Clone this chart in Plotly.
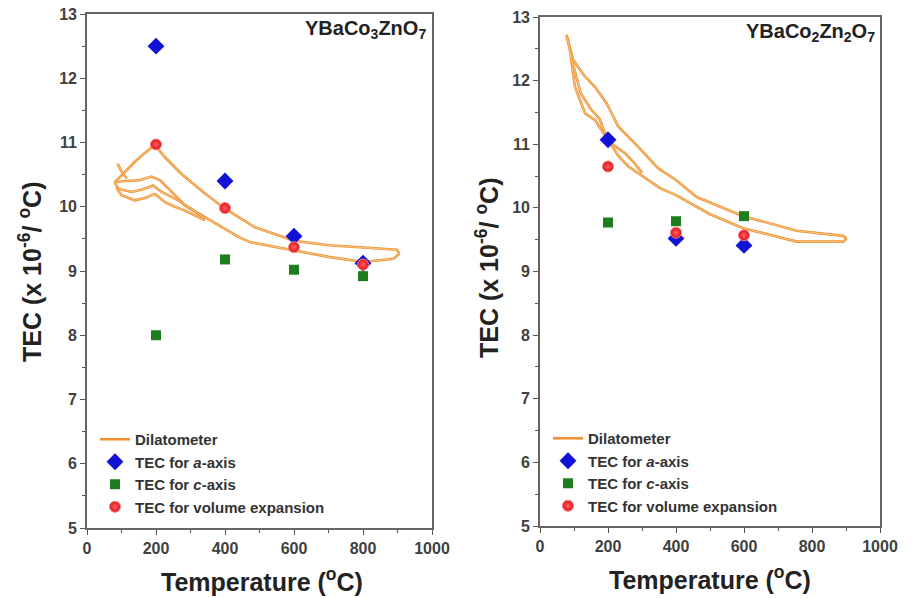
import plotly.graph_objects as go

# ---------------- data ----------------
temps_xrd = [200, 400, 600, 800]
a_axis_1 = [12.5, 10.40, 9.54, 9.12]
c_axis_1 = [8.0, 9.18, 9.02, 8.92]
vol_1 = [10.97, 9.98, 9.37, 9.10]

temps_xrd2 = [200, 400, 600]
a_axis_2 = [11.07, 9.52, 9.41]
c_axis_2 = [9.77, 9.79, 9.87]
vol_2 = [10.65, 9.61, 9.57]

# dilatometer, panel 1 (heating branch + return strands)
dil1_up_T = [80, 110, 139, 170, 197, 226, 274, 332, 400, 487, 600, 700, 800, 898, 906]
dil1_up_V = [10.38, 10.55, 10.70, 10.85, 10.96, 10.77, 10.51, 10.25, 9.97, 9.68, 9.47, 9.40, 9.37, 9.33, 9.27]
dil1_ret_T = [906, 888, 801, 700, 600, 472, 439, 400, 342, 284, 255, 212, 187, 149, 110, 80]
dil1_ret_V = [9.27, 9.19, 9.14, 9.22, 9.32, 9.45, 9.53, 9.65, 9.84, 10.02, 10.18, 10.41, 10.47, 10.41, 10.40, 10.38]
dil1_s2_T = [342, 300, 265, 216, 192, 160, 130, 91, 80]
dil1_s2_V = [9.82, 9.98, 10.10, 10.23, 10.33, 10.27, 10.23, 10.28, 10.38]
dil1_s3_T = [342, 284, 255, 226, 197, 170, 139, 100, 85]
dil1_s3_V = [9.79, 9.94, 10.00, 10.07, 10.20, 10.14, 10.10, 10.18, 10.30]
dil1_stub_T = [88, 100, 115]
dil1_stub_V = [10.67, 10.55, 10.44]

# dilatometer, panel 2
dil2_up_T = [78, 98, 130, 162, 196, 230, 289, 348, 397, 461, 598, 755, 892, 902]
dil2_up_V = [12.72, 12.32, 12.08, 11.90, 11.64, 11.28, 10.96, 10.62, 10.45, 10.17, 9.87, 9.64, 9.56, 9.52]
dil2_ret_T = [902, 892, 755, 598, 500, 400, 353, 309, 260, 230, 196, 162, 132, 103, 88, 78]
dil2_ret_V = [9.52, 9.47, 9.47, 9.68, 9.90, 10.20, 10.31, 10.47, 10.65, 10.82, 11.09, 11.38, 11.49, 11.90, 12.48, 12.72]
dil2_s2_T = [95, 120, 150, 175, 200, 225, 250, 275, 300]
dil2_s2_V = [12.30, 11.80, 11.55, 11.40, 11.05, 10.95, 10.86, 10.72, 10.55]

title1 = "<b>YBaCo<sub>3</sub>ZnO<sub>7</sub></b>"
title2 = "<b>YBaCo<sub>2</sub>Zn<sub>2</sub>O<sub>7</sub></b>"
xlabel = "<b>Temperature (<sup>o</sup>C)</b>"
ylabel = "<b>TEC (x 10<sup>-6</sup>/ <sup>o</sup>C)</b>"
names = ["Dilatometer", "TEC for <i>a</i>-axis", "TEC for <i>c</i>-axis", "TEC for volume expansion"]

ORANGE = "#EE9230"
LIGHT = "#FADDB4"
BLUE = "#1212D6"
GREEN = "#1E7D1E"
RED = "#E3121A"
FONT = "Liberation Sans, Arial"

fig = go.Figure()

def add_panel(xa, ya, leg, strands, tx, a, c, v):
    first = True
    for (T, V) in strands:
        fig.add_trace(go.Scatter(x=T, y=V, mode="lines", line=dict(color=ORANGE, width=2.6),
                                 name=names[0], showlegend=first, legend=leg,
                                 xaxis=xa, yaxis=ya, hoverinfo="skip"))
        fig.add_trace(go.Scatter(x=T, y=V, mode="lines", line=dict(color=LIGHT, width=0.7),
                                 showlegend=False, xaxis=xa, yaxis=ya, hoverinfo="skip"))
        first = False
    fig.add_trace(go.Scatter(x=tx, y=a, mode="markers", name=names[1], legend=leg,
                             marker=dict(symbol="diamond", size=13, color=BLUE),
                             xaxis=xa, yaxis=ya))
    fig.add_trace(go.Scatter(x=tx, y=c, mode="markers", name=names[2], legend=leg,
                             marker=dict(symbol="square", size=10, color=GREEN),
                             xaxis=xa, yaxis=ya))
    fig.add_trace(go.Scatter(x=tx, y=v, mode="markers", name=names[3], legend=leg,
                             marker=dict(symbol="circle", size=11, color=RED,
                                         gradient=dict(type="radial", color="#FF6060"),
                                         line=dict(color="#F08080", width=1.0)),
                             xaxis=xa, yaxis=ya))

add_panel("x", "y", "legend",
          [(dil1_up_T, dil1_up_V), (dil1_ret_T, dil1_ret_V), (dil1_s2_T, dil1_s2_V),
           (dil1_s3_T, dil1_s3_V), (dil1_stub_T, dil1_stub_V)],
          temps_xrd, a_axis_1, c_axis_1, vol_1)
add_panel("x2", "y2", "legend2",
          [(dil2_up_T, dil2_up_V), (dil2_ret_T, dil2_ret_V), (dil2_s2_T, dil2_s2_V)],
          temps_xrd2, a_axis_2, c_axis_2, vol_2)

W, H = 913, 598
tickfont = dict(family=FONT, size=16, color="#404040", weight="bold")

def xaxis(dom, anchor):
    return dict(domain=dom, anchor=anchor, range=[0, 1000], tickmode="linear", tick0=0, dtick=200,
                ticks="outside", ticklen=5, tickwidth=1.2, tickcolor="#555",
                minor=dict(dtick=100, ticks="outside", ticklen=3, tickcolor="#555"),
                showline=True, linecolor="#666", linewidth=1.6, mirror=True, automargin=False,
                showgrid=False, zeroline=False, tickfont=tickfont)

def yaxis(dom, anchor):
    return dict(domain=dom, anchor=anchor, range=[5, 13], tickmode="linear", tick0=5, dtick=1,
                ticks="outside", ticklen=5, tickwidth=1.2, tickcolor="#555",
                minor=dict(dtick=0.5, ticks="outside", ticklen=3, tickcolor="#555"),
                showline=True, linecolor="#666", linewidth=1.6, mirror=True, automargin=False,
                showgrid=False, zeroline=False, tickfont=tickfont)

legfont = dict(family=FONT, size=15, color="#333", weight="bold")

def ann(text, x, y, size, xanchor="center", yanchor="middle", angle=0):
    return dict(text=text, x=x / W, y=1 - y / H, xref="paper", yref="paper", xanchor=xanchor,
                yanchor=yanchor, showarrow=False, textangle=angle,
                font=dict(family=FONT, size=size, color="#222"))

fig.update_layout(
    width=W, height=H, margin=dict(l=0, r=0, t=0, b=0, autoexpand=False),
    paper_bgcolor="white", plot_bgcolor="white",
    xaxis=xaxis([87 / W, 432 / W], "y"),
    yaxis=yaxis([1 - 528 / H, 1 - 14 / H], "x"),
    xaxis2=xaxis([540 / W, 880 / W], "y2"),
    yaxis2=yaxis([1 - 526 / H, 1 - 17 / H], "x2"),
    legend=dict(x=95 / W, y=1 - 423 / H, xanchor="left", yanchor="top", bgcolor="rgba(0,0,0,0)",
                font=legfont, tracegroupgap=0, itemwidth=30),
    legend2=dict(x=548 / W, y=1 - 422 / H, xanchor="left", yanchor="top", bgcolor="rgba(0,0,0,0)",
                 font=legfont, tracegroupgap=0, itemwidth=30),
    annotations=[
        ann(title1, 428, 15, 20, xanchor="right", yanchor="top"),
        ann(title2, 877, 18, 20, xanchor="right", yanchor="top"),
        ann(xlabel, 262, 580, 25),
        ann(xlabel, 710, 578, 25),
        ann(ylabel, 30, 272, 25, angle=-90),
        ann(ylabel, 487, 268, 25, angle=-90),
    ],
)

fig.write_html("out.html")
